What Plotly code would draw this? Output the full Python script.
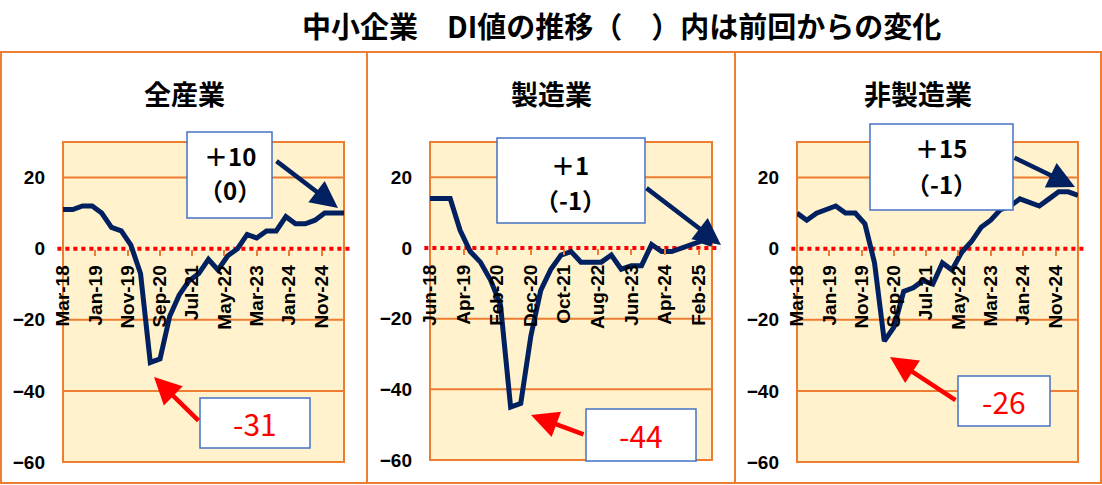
import plotly.graph_objects as go

W, H = 1102, 485

# ---------------- data ----------------
dates_all = ["2018-03-01", "2018-06-01", "2018-09-01", "2018-12-01",
             "2019-03-01", "2019-06-01", "2019-09-01", "2019-12-01",
             "2020-03-01", "2020-06-01", "2020-09-01", "2020-12-01",
             "2021-03-01", "2021-06-01", "2021-09-01", "2021-12-01",
             "2022-03-01", "2022-06-01", "2022-09-01", "2022-12-01",
             "2023-03-01", "2023-06-01", "2023-09-01", "2023-12-01",
             "2024-03-01", "2024-06-01", "2024-09-01", "2024-12-01",
             "2025-03-01", "2025-06-01"]
all_industry = [11, 11, 12, 12, 10, 6, 5, 1, -7, -32, -31, -19, -13, -9, -7,
                -3, -6, -2, 0, 4, 3, 5, 5, 9, 7, 7, 8, 10, 10, 10]
non_manufacturing = [10, 8, 10, 11, 12, 10, 10, 7, -4, -26, -22, -12, -11, -9, -10,
                     -4, -6, -1, 2, 6, 8, 11, 12, 14, 13, 12, 14, 16, 16, 15]

dates_mfg = ["2018-06-01", "2018-09-01", "2018-12-01",
             "2019-03-01", "2019-06-01", "2019-09-01", "2019-12-01",
             "2020-03-01", "2020-06-01", "2020-09-01", "2020-12-01",
             "2021-03-01", "2021-06-01", "2021-09-01", "2021-12-01",
             "2022-03-01", "2022-06-01", "2022-09-01", "2022-12-01",
             "2023-03-01", "2023-06-01", "2023-09-01", "2023-12-01",
             "2024-03-01", "2024-06-01", "2024-09-01", "2024-12-01",
             "2025-03-01", "2025-06-01"]
manufacturing = [14, 14, 14, 5, -1, -4, -9, -16, -45, -44, -25, -12, -6, -2, -1,
                 -4, -4, -4, -2, -6, -5, -5, 1, -1, -1, 0, 1, 2, 1]

tick_dates_a = ["2018-03-01", "2019-01-01", "2019-11-01", "2020-09-01", "2021-07-01",
                "2022-05-01", "2023-03-01", "2024-01-01", "2024-11-01"]
tick_text_a = ["Mar-18", "Jan-19", "Nov-19", "Sep-20", "Jul-21",
               "May-22", "Mar-23", "Jan-24", "Nov-24"]
tick_dates_m = ["2018-06-01", "2019-04-01", "2020-02-01", "2020-12-01", "2021-10-01",
                "2022-08-01", "2023-06-01", "2024-04-01", "2025-02-01"]
tick_text_m = ["Jun-18", "Apr-19", "Feb-20", "Dec-20", "Oct-21",
               "Aug-22", "Jun-23", "Apr-24", "Feb-25"]

y_ticks = [20, 0, -20, -40, -60]
grid_vals = [20, -20, -40, -60]

panel_titles = ["全産業", "製造業", "非製造業"]
latest_value = ["＋10", "＋1", "＋15"]
latest_change = ["（0）", "（-1）", "（-1）"]
min_text = ["-31", "-44", "-26"]
main_title = "中小企業　DI値の推移（　）内は前回からの変化"

# ---------------- styles ----------------
ORANGE = "#ED7D31"
NAVY = "#002060"
RED = "#FF0000"
BLUE = "#4472C4"
BG = "#FFF2CC"
CJK = "Noto Sans CJK JP"
LAT = "Liberation Sans, Arial, sans-serif"


def px(x):
    return x / W


def py(y):
    return 1 - y / H


panels = [
    dict(box=(1, 367), plot=(63, 344), plot_y=(142, 462), dates=dates_all, vals=all_industry,
         tv=tick_dates_a, tt=tick_text_a, rng=["2018-03-01", "2025-06-01"],
         tbox=(187, 132, 272, 218), tl1=(230, 155), tl2=(230, 190),
         rbox=(200, 398, 310, 448), rcen=(255, 423),
         narrow=((275, 160), (338, 208)), rarrow=((200, 422), (154, 377))),
    dict(box=(367, 735), plot=(430, 712), plot_y=(142, 460), dates=dates_mfg, vals=manufacturing,
         tv=tick_dates_m, tt=tick_text_m, rng=["2018-06-01", "2025-06-01"],
         tbox=(497, 138, 645, 223), tl1=(570, 164), tl2=(570, 199),
         rbox=(586, 409, 696, 461), rcen=(641, 435),
         narrow=((645, 187), (721, 245)), rarrow=((585, 435), (531, 415))),
    dict(box=(735, 1101), plot=(797, 1078), plot_y=(142, 462), dates=dates_all, vals=non_manufacturing,
         tv=tick_dates_a, tt=tick_text_a, rng=["2018-03-01", "2025-06-01"],
         tbox=(870, 124, 1013, 210), tl1=(941, 147), tl2=(941, 183),
         rbox=(958, 376, 1050, 426), rcen=(1004, 401),
         narrow=((1013, 157), (1075, 187)), rarrow=((957, 401), (890, 357))),
]

fig = go.Figure()
shapes = []
annotations = []
layout = {}

for i, p in enumerate(panels, start=1):
    sfx = "" if i == 1 else str(i)
    xa, ya = "x" + sfx, "y" + sfx
    fig.add_trace(go.Scatter(x=p["dates"], y=p["vals"], mode="lines",
                             line=dict(color=NAVY, width=5),
                             xaxis=xa, yaxis=ya, showlegend=False,
                             hoverinfo="x+y"))
    y_lo, y_hi = py(p["plot_y"][1]), py(p["plot_y"][0])
    zero_pos = y_lo + (0 - (-60)) / 90 * (y_hi - y_lo)
    layout["xaxis" + sfx] = dict(
        domain=[px(p["plot"][0]), px(p["plot"][1])], type="date", range=p["rng"],
        anchor="free", position=zero_pos, tickmode="array", tickvals=p["tv"],
        ticktext=p["tt"], tickangle=-90, ticks="outside", ticklen=6, tickwidth=2,
        tickcolor=ORANGE, ticklabelstandoff=2, showgrid=False, zeroline=False,
        showline=False, automargin=False,
        tickfont=dict(family=LAT, size=19, color="black", weight="bold"))
    layout["yaxis" + sfx] = dict(
        domain=[y_lo, y_hi], range=[-60, 30], anchor=xa, tickmode="array",
        tickvals=y_ticks, ticks="", showgrid=False, zeroline=False, showline=False,
        ticklabelstandoff=17, automargin=False,
        tickfont=dict(family=LAT, size=19, color="black", weight="bold"))

    # outer panel frame
    shapes.append(dict(type="rect", xref="paper", yref="paper",
                       x0=px(p["box"][0]), x1=px(p["box"][1]), y0=py(483), y1=py(52),
                       line=dict(color=ORANGE, width=2), layer="below"))
    # grid lines
    for g in grid_vals:
        shapes.append(dict(type="line", xref=xa + " domain", yref=ya,
                           x0=0, x1=1, y0=g, y1=g,
                           line=dict(color=ORANGE, width=2), layer="below"))
    # plot frame
    shapes.append(dict(type="rect", xref=xa + " domain", yref=ya + " domain",
                       x0=0, x1=1, y0=0, y1=1,
                       line=dict(color=ORANGE, width=2), layer="below"))
    # red dotted zero line
    shapes.append(dict(type="line", xref=xa + " domain", yref=ya,
                       x0=-0.02, x1=1.03, y0=0, y1=0,
                       line=dict(color=RED, width=4, dash="dot"), layer="below"))
    # annotation boxes
    for (x0, y0, x1, y1) in (p["tbox"], p["rbox"]):
        shapes.append(dict(type="rect", xref="paper", yref="paper",
                           x0=px(x0), x1=px(x1), y0=py(y1), y1=py(y0),
                           line=dict(color=BLUE, width=1.5), fillcolor="white",
                           layer="above"))
    # panel title
    annotations.append(dict(text=panel_titles[i - 1], xref="paper", yref="paper",
                            x=px((p["box"][0] + p["box"][1]) / 2), y=py(94),
                            showarrow=False, xanchor="center", yanchor="middle",
                            font=dict(family=CJK, size=27, color="black", weight="bold")))
    # latest value text (two lines)
    annotations.append(dict(text=latest_value[i - 1], xref="paper", yref="paper",
                            x=px(p["tl1"][0]), y=py(p["tl1"][1]),
                            showarrow=False, xanchor="center", yanchor="middle",
                            borderpad=0,
                            font=dict(family=CJK, size=24, color="black", weight="bold")))
    annotations.append(dict(text=latest_change[i - 1], xref="paper", yref="paper",
                            x=px(p["tl2"][0]), y=py(p["tl2"][1]),
                            showarrow=False, xanchor="center", yanchor="middle",
                            borderpad=0,
                            font=dict(family=CJK, size=24, color="black", weight="bold")))
    # minimum text
    annotations.append(dict(text=min_text[i - 1], xref="paper", yref="paper",
                            x=px(p["rcen"][0]), y=py(p["rcen"][1]),
                            showarrow=False, xanchor="center", yanchor="middle",
                            font=dict(family=CJK, size=30, color=RED)))
    # arrows
    for (tail, head), col in ((p["narrow"], NAVY), (p["rarrow"], RED)):
        annotations.append(dict(text="", xref="paper", yref="paper",
                                x=px(head[0]), y=py(head[1]),
                                ax=tail[0] - head[0], ay=tail[1] - head[1],
                                showarrow=True, arrowhead=2, arrowsize=1.2,
                                arrowwidth=4.5, arrowcolor=col, standoff=0))

annotations.append(dict(text=main_title, xref="paper", yref="paper",
                        x=px(622), y=py(25), showarrow=False,
                        xanchor="center", yanchor="middle",
                        font=dict(family=CJK, size=29, color="black", weight="bold")))

fig.update_layout(
    width=W, height=H, margin=dict(l=0, r=0, t=0, b=0),
    paper_bgcolor="white", plot_bgcolor=BG,
    shapes=shapes, annotations=annotations, showlegend=False,
    **layout)

fig.write_html("out.html",
               config={"displayModeBar": False},
               post_script="document.body.style.margin='0px';"
                           "document.body.style.overflow='hidden';")
